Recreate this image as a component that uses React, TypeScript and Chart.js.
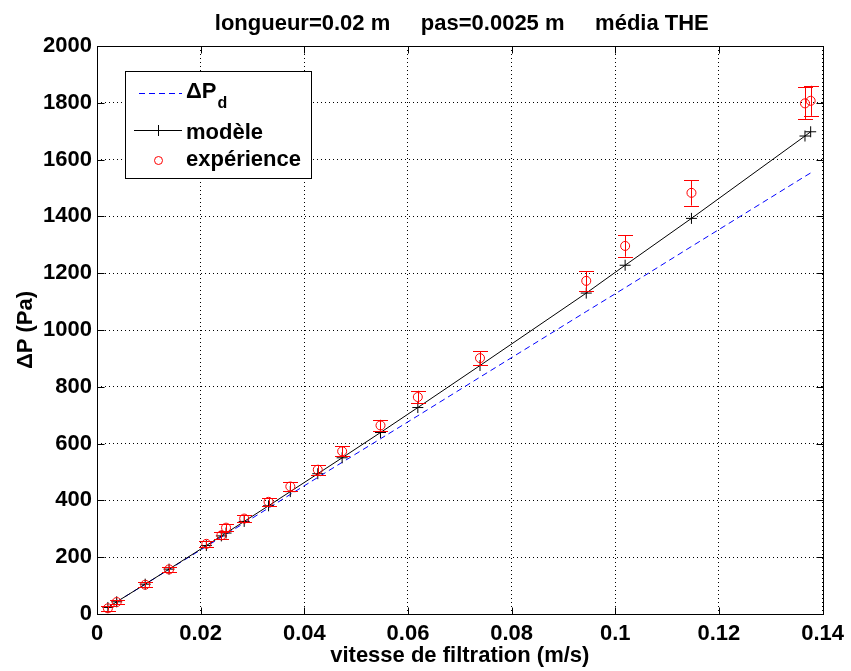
import React, { useEffect, useRef } from 'react';
import { Chart, registerables } from 'chart.js';

Chart.register(...registerables);

// vitesse de filtration (m/s)
const vitesse = [0.0021, 0.0038, 0.0093, 0.0139, 0.0211, 0.0240, 0.0249, 0.0284, 0.0331, 0.0373, 0.0426, 0.0473, 0.0547, 0.0619, 0.0739, 0.0944, 0.1019, 0.1147, 0.1366, 0.1377];
// expérience (Pa)
const dpExperience = [20, 42, 103, 157, 247, 277, 304, 336, 395, 449, 508, 573, 664, 764, 901, 1173, 1296, 1483, 1798, 1807];
// incertitude expérimentale (Pa)
const dpErreur = [8, 8, 9, 10, 11, 12, 13, 13, 14, 15, 17, 18, 20, 22, 25, 34, 38, 45, 56, 53];
// modèle (Pa)
const dpModele = [23, 43, 105, 158, 241, 275, 285, 326, 381, 431, 494, 550, 639, 727, 875, 1130, 1228, 1393, 1683, 1698];
// ΔP_d (Pa)
const dpDarcy = [23, 43, 105, 157, 238, 271, 281, 320, 373, 421, 481, 534, 617, 698, 834, 1065, 1149, 1294, 1541, 1553];

const TITLE = 'longueur=0.02 m     pas=0.0025 m     média THE';
const X_TITLE = 'vitesse de filtration (m/s)';
const Y_TITLE = 'ΔP (Pa)';
const LEGEND_LABELS = ['ΔP', 'd', 'modèle', 'expérience'];

const FONT = "'Liberation Sans', Arial, Helvetica, sans-serif";

export default function App() {
  const ref = useRef<HTMLCanvasElement | null>(null);

  useEffect(() => {
    const canvas = ref.current;
    if (!canvas) return;

    const decor = {
      id: 'matlabDecor',
      afterDatasetsDraw(chart: any) {
        const { ctx } = chart;
        const xs = chart.scales.x;
        const ys = chart.scales.y;
        ctx.save();
        ctx.strokeStyle = '#ff0000';
        ctx.lineWidth = 1;
        ctx.setLineDash([]);
        vitesse.forEach((v, i) => {
          const px = Math.round(xs.getPixelForValue(v)) + 0.5;
          const yTop = ys.getPixelForValue(dpExperience[i] + dpErreur[i]);
          const yBot = ys.getPixelForValue(dpExperience[i] - dpErreur[i]);
          const cap = 7.5;
          ctx.beginPath();
          ctx.moveTo(px, yTop);
          ctx.lineTo(px, yBot);
          ctx.moveTo(px - cap, Math.round(yTop) + 0.5);
          ctx.lineTo(px + cap, Math.round(yTop) + 0.5);
          ctx.moveTo(px - cap, Math.round(yBot) + 0.5);
          ctx.lineTo(px + cap, Math.round(yBot) + 0.5);
          ctx.stroke();
        });
        ctx.restore();
      },
      afterDraw(chart: any) {
        const { ctx, chartArea } = chart;
        const { left, right, top, bottom } = chartArea;
        const xs = chart.scales.x;
        const ys = chart.scales.y;
        const L = Math.round(left) + 0.5;
        const R = Math.round(right) + 0.5;
        const T = Math.round(top) + 0.5;
        const B = Math.round(bottom) + 0.5;
        ctx.save();
        ctx.setLineDash([]);
        ctx.strokeStyle = '#000';
        ctx.lineWidth = 1;
        // box
        ctx.strokeRect(L, T, R - L, B - T);
        // inner ticks
        const tl = 7;
        ctx.beginPath();
        xs.ticks.forEach((t: any) => {
          const px = Math.round(xs.getPixelForValue(t.value)) + 0.5;
          ctx.moveTo(px, B);
          ctx.lineTo(px, B - tl);
          ctx.moveTo(px, T);
          ctx.lineTo(px, T + tl);
        });
        ys.ticks.forEach((t: any) => {
          const py = Math.round(ys.getPixelForValue(t.value)) + 0.5;
          ctx.moveTo(L, py);
          ctx.lineTo(L + tl, py);
          ctx.moveTo(R, py);
          ctx.lineTo(R - tl, py);
        });
        ctx.stroke();

        // title
        ctx.fillStyle = '#000';
        ctx.font = `bold 22px ${FONT}`;
        ctx.textAlign = 'center';
        ctx.textBaseline = 'alphabetic';
        ctx.fillText(TITLE, (left + right) / 2 + 2, 29.5);

        // legend
        const lx = 125.5, ly = 71.5, lw = 186, lh = 107;
        ctx.fillStyle = '#fff';
        ctx.fillRect(lx, ly, lw, lh);
        ctx.strokeStyle = '#000';
        ctx.strokeRect(lx, ly, lw, lh);

        // ΔP_d entry
        ctx.strokeStyle = '#0000ff';
        ctx.setLineDash([6, 4]);
        ctx.beginPath();
        ctx.moveTo(139, 93.5);
        ctx.lineTo(182, 93.5);
        ctx.stroke();
        ctx.setLineDash([]);
        ctx.fillStyle = '#000';
        ctx.textAlign = 'left';
        ctx.textBaseline = 'alphabetic';
        ctx.font = `bold 22px ${FONT}`;
        ctx.fillText(LEGEND_LABELS[0], 186, 98);
        const w0 = ctx.measureText(LEGEND_LABELS[0]).width;
        ctx.font = `bold 16px ${FONT}`;
        ctx.fillText(LEGEND_LABELS[1], 186 + w0 + 1, 108);

        // modèle entry
        ctx.strokeStyle = '#000';
        ctx.beginPath();
        ctx.moveTo(134, 130.5);
        ctx.lineTo(182, 130.5);
        ctx.moveTo(158.5, 125);
        ctx.lineTo(158.5, 136);
        ctx.stroke();
        ctx.font = `bold 22px ${FONT}`;
        ctx.fillText(LEGEND_LABELS[2], 186, 139);

        // expérience entry
        ctx.strokeStyle = '#ff0000';
        ctx.beginPath();
        ctx.arc(158.5, 160.5, 4, 0, Math.PI * 2);
        ctx.stroke();
        ctx.fillText(LEGEND_LABELS[3], 186, 166);
        ctx.restore();
      },
    };

    const tickFont = { family: FONT, size: 22, weight: 'bold' as const };
    const fmt = (v: any) => String(Number(Number(v).toFixed(3)));

    const chart = new Chart(canvas, {
      type: 'line',
      data: {
        datasets: [
          {
            label: 'expérience',
            data: vitesse.map((v, i) => ({ x: v, y: dpExperience[i] })),
            showLine: false,
            pointStyle: 'circle',
            pointRadius: 4.5,
            pointBorderColor: '#ff0000',
            pointBackgroundColor: 'rgba(0,0,0,0)',
            pointBorderWidth: 1,
            borderColor: '#ff0000',
          },
          {
            label: 'modèle',
            data: vitesse.map((v, i) => ({ x: v, y: dpModele[i] })),
            borderColor: '#000',
            borderWidth: 1,
            pointStyle: 'cross',
            pointRadius: 5.5,
            pointBorderColor: '#000',
            pointBorderWidth: 1,
            tension: 0,
          },
          {
            label: 'ΔP_d',
            data: vitesse.map((v, i) => ({ x: v, y: dpDarcy[i] })),
            borderColor: '#0000ff',
            borderWidth: 1,
            borderDash: [6, 4],
            pointRadius: 0,
            tension: 0,
          },
        ],
      },
      options: {
        animation: false,
        responsive: true,
        maintainAspectRatio: false,
        layout: { padding: { top: 46, right: 24, left: 0, bottom: 0 } },
        plugins: {
          legend: { display: false },
          title: { display: false },
          tooltip: { enabled: false },
        },
        scales: {
          x: {
            type: 'linear',
            min: 0,
            max: 0.14,
            ticks: {
              stepSize: 0.02,
              color: '#000',
              font: tickFont,
              padding: 7,
              maxRotation: 0,
              autoSkip: false,
              callback: fmt,
            },
            grid: { color: '#000', lineWidth: 1, drawTicks: false, borderDash: [1, 3] } as any,
            border: { display: false, dash: [1, 3] },
            title: {
              display: true,
              text: X_TITLE,
              color: '#000',
              font: tickFont,
              padding: { top: 0, bottom: 2 },
            },
            afterFit: (s: any) => {
              s.height = 57;
            },
          },
          y: {
            type: 'linear',
            min: 0,
            max: 2000,
            ticks: {
              stepSize: 200,
              color: '#000',
              font: tickFont,
              padding: 5,
              autoSkip: false,
              callback: fmt,
            },
            grid: { color: '#000', lineWidth: 1, drawTicks: false, borderDash: [1, 3] } as any,
            border: { display: false, dash: [1, 3] },
            title: {
              display: true,
              text: Y_TITLE,
              color: '#000',
              font: tickFont,
              padding: { top: 13, bottom: 0 },
            },
            afterFit: (s: any) => {
              s.width = 97;
            },
          },
        },
      },
      plugins: [decor],
    });

    return () => chart.destroy();
  }, []);

  return (
    <div style={{ position: 'fixed', left: 0, top: 0, width: 851, height: 671, background: '#fff' }}>
      <canvas ref={ref} />
    </div>
  );
}
